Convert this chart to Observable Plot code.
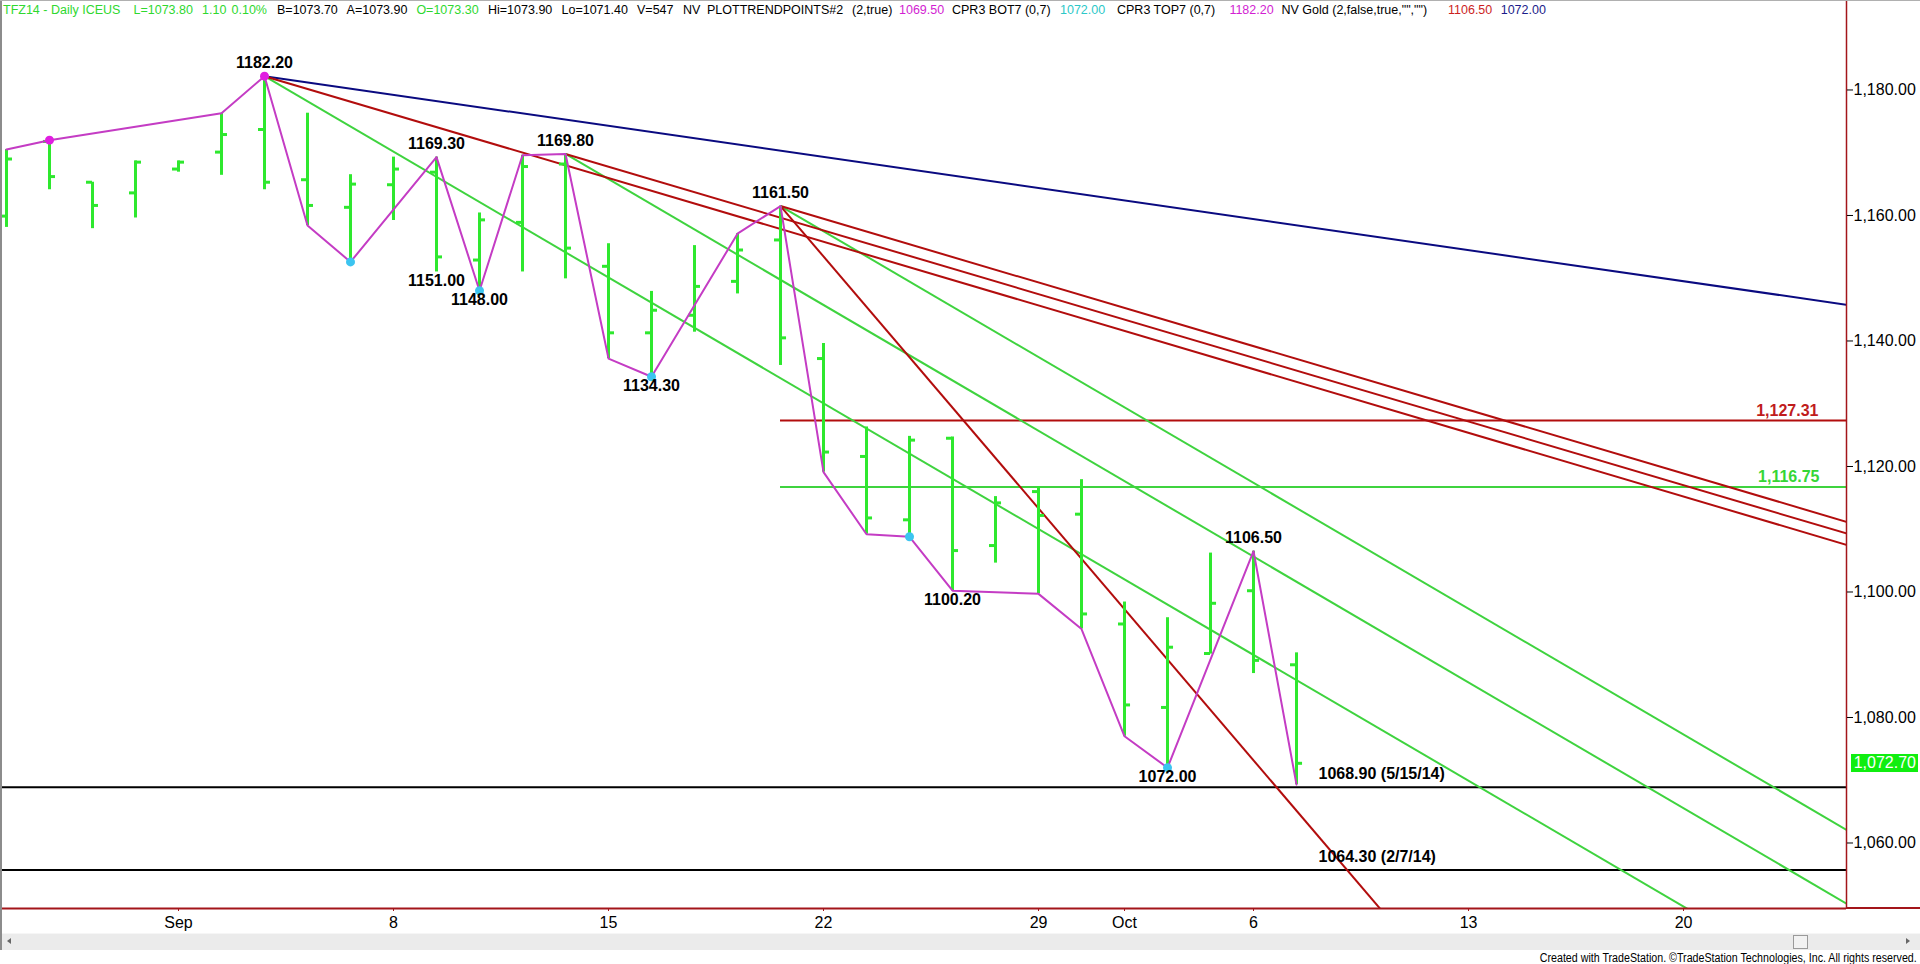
<!DOCTYPE html>
<html><head><meta charset="utf-8">
<script src="https://cdn.jsdelivr.net/npm/d3@7"></script>
<script src="https://cdn.jsdelivr.net/npm/@observablehq/plot@0.6"></script>
<style>
body{margin:0;background:#fff;overflow:hidden;font-family:Arial,"Liberation Sans",sans-serif}
#wrap{position:relative;width:1920px;height:964px;overflow:hidden;background:#fff}
#chart{position:absolute;left:0;top:0}
.hdr{position:absolute;top:3px;font-size:12.5px;line-height:15px;white-space:pre}
.abs{position:absolute}
</style></head><body>
<div id="wrap"><div id="chart"></div></div>
<script>
// ---- data ----
const dates = ["Aug 26","Aug 27","Aug 28","Aug 29","Sep 1","Sep 2","Sep 3","Sep 4","Sep 5","Sep 8","Sep 9","Sep 10","Sep 11","Sep 12","Sep 15","Sep 16","Sep 17","Sep 18","Sep 19","Sep 22","Sep 23","Sep 24","Sep 25","Sep 26","Sep 29","Sep 30","Oct 1","Oct 2","Oct 3","Oct 6","Oct 7"];
const opens  = [1159.9,1171.8,1165.3,1163.6,1167.4,1170.1,1173.7,1165.7,1161.3,1164.9,1166.9,1152.9,1158.9,1168.2,1151.9,1141.3,1144.1,1149.5,1156.1,1137.2,1121.6,1111.5,1124.5,1107.4,1116.0,1112.4,1094.9,1081.6,1090.2,1100.2,1088.4];
const highs  = [1170.5,1172.0,1165.3,1168.7,1168.7,1176.3,1182.2,1176.3,1166.5,1169.3,1169.3,1160.4,1169.6,1169.8,1155.5,1147.9,1155.2,1157.1,1161.5,1139.6,1126.3,1124.8,1124.7,1115.2,1116.8,1117.9,1098.4,1095.9,1106.2,1106.5,1090.3];
const lows   = [1158.1,1164.1,1157.9,1159.6,1166.9,1166.4,1164.1,1158.4,1152.6,1159.2,1151.0,1148.0,1151.0,1149.9,1137.2,1134.3,1141.4,1147.5,1136.1,1119.1,1109.2,1108.8,1100.2,1104.6,1099.7,1094.1,1077.0,1072.0,1090.1,1087.0,1069.3];
const closes = [1169.0,1166.2,1161.6,1168.5,1168.5,1172.9,1165.3,1161.6,1165.0,1167.4,1153.4,1159.3,1167.8,1154.8,1141.3,1144.9,1148.7,1154.5,1140.5,1122.3,1111.8,1124.2,1106.6,1114.2,1112.2,1096.5,1082.0,1091.2,1098.2,1089.1,1072.7];

const swingIdx = [0,1,5,6,7,8,10,11,12,13,14,15,17,18,19,20,21,22,24,25,26,27,29,30];
const swingVal = [1170.5,1172.0,1176.3,1182.2,1158.4,1152.6,1169.3,1148.0,1169.6,1169.8,1137.2,1134.3,1157.1,1161.5,1119.1,1109.2,1108.8,1100.2,1099.7,1094.1,1077.0,1072.0,1106.5,1069.3];
const highDotIdx = [1,6];
const lowDotIdx = [8,11,15,21,27];

const labelIdx  = [6,10,10,11,13,15,18,22,27,29];
const labelVal  = [1182.2,1169.3,1151.0,1148.0,1169.8,1134.3,1161.5,1100.2,1072.0,1106.5];
const labelSide = ["above","above","below","below","above","below","above","below","below","above"];

const fanIdx = [6,13,18];
const fanVal = [1182.2,1169.8,1161.5];
const redFanSlope = -2.03;
const greenFanSlope = -4.01;
const steepIdx = 18, steepVal = 1161.5, steepSlope = -8.03;
const blueIdx = 6, blueVal = 1182.2, blueSlope = -0.99;

const levelVals = [1127.31, 1116.75];
const levelText = ["1,127.31", "1,116.75"];
const levelFrom = 18;

const supportVals = [1068.9, 1055.7];
const supportText = ["1068.90 (5/15/14)", "1064.30 (2/7/14)"];

const yTicks = [1060,1080,1100,1120,1140,1160,1180];
const tickIdx = [4,9,14,19,24,26,29,34,39];
const tickLabels = ["Sep","8","15","22","29","Oct","6","13","20"];

const headerText = ["TFZ14 - Daily ICEUS","L=1073.80","1.10","0.10%","B=1073.70","A=1073.90","O=1073.30","Hi=1073.90","Lo=1071.40","V=547","NV","PLOTTRENDPOINTS#2","(2,true)","1069.50","CPR3 BOT7 (0,7)","1072.00","CPR3 TOP7 (0,7)","1182.20","NV Gold (2,false,true,\"\",\"\")","1106.50","1072.00"];
const priceTag = "1,072.70";
const credit = "Created with TradeStation. \u00A9TradeStation Technologies, Inc. All rights reserved.";

// ---- layout / style ----
const headerX = [3,133.5,202,231.5,277,346.6,416.4,488,561.5,637,683,707,852,899,952,1060,1117,1229.4,1281.5,1448,1500.7];
const GREEN_T="#2fd82f", MAG_T="#d21ed2", CYAN_T="#2cc8c8", RED_T="#cc1f1f", NAVY_T="#1c1c8a";
const headerColor = [GREEN_T,GREEN_T,GREEN_T,GREEN_T,"#000","#000",GREEN_T,"#000","#000","#000","#000","#000","#000",MAG_T,"#000",CYAN_T,"#000",MAG_T,"#000",RED_T,NAVY_T];

const BAR="#2ee82e", LINEG="#3fd33f", LINER="#b20d0d", NAVY="#0a0a80", MAG="#c43cc4", AXR="#a3151a";
const xDomain = [-0.093, 42.79];
const yDomain = [1049.56, 1194.26];
const xMax = xDomain[1];

// ---- derived tables ----
const bars = dates.map((d,i)=>({k:i, date:d, open:opens[i], high:highs[i], low:lows[i], close:closes[i]}));
const swing = swingIdx.map((k,i)=>({k, v:swingVal[i]}));
const hiDots = highDotIdx.map(k=>({k, v:highs[k]}));
const loDots = lowDotIdx.map(k=>({k, v:lows[k]}));
const labels = labelIdx.map((k,i)=>({k, v:labelVal[i], side:labelSide[i]}));
const seg = (k0,v0,s)=>({x1:k0, y1:v0, x2:xMax, y2:v0 + s*(xMax-k0)});
const redFan = fanIdx.map((k,i)=>seg(k,fanVal[i],redFanSlope));
const greenFan = fanIdx.map((k,i)=>seg(k,fanVal[i],greenFanSlope));
const steep = [seg(steepIdx,steepVal,steepSlope)];
const blue = [seg(blueIdx,blueVal,blueSlope)];
const levels = levelVals.map((v,i)=>({v, text:levelText[i]}));
const supports = supportVals.map((v,i)=>({v, text:supportText[i]}));
const labelOf = new Map(tickIdx.map((k,i)=>[k,tickLabels[i]]));

const font = "Arial, 'Liberation Sans', sans-serif";
const tick = 0.14;

const plot = Plot.plot({
  width:1920, height:964,
  marginTop:0, marginRight:74, marginBottom:56, marginLeft:2,
  x:{domain:xDomain},
  y:{domain:yDomain},
  style:{fontFamily:font, background:"transparent", color:"#000", overflow:"visible"},
  marks:[
    Plot.ruleY(supports, {y:"v", stroke:"#000", strokeWidth:2}),
    Plot.ruleY(levels.slice(0,1), {y:"v", x1:()=>levelFrom, x2:()=>xMax, stroke:LINER, strokeWidth:2}),
    Plot.ruleY(levels.slice(1), {y:"v", x1:()=>levelFrom, x2:()=>xMax, stroke:LINEG, strokeWidth:2}),
    Plot.link(blue, {x1:"x1", y1:"y1", x2:"x2", y2:"y2", stroke:NAVY, strokeWidth:2, clip:true}),
    Plot.link(greenFan, {x1:"x1", y1:"y1", x2:"x2", y2:"y2", stroke:LINEG, strokeWidth:2, clip:true}),
    Plot.link(redFan, {x1:"x1", y1:"y1", x2:"x2", y2:"y2", stroke:LINER, strokeWidth:2, clip:true}),
    Plot.link(steep, {x1:"x1", y1:"y1", x2:"x2", y2:"y2", stroke:LINER, strokeWidth:2, clip:true}),
    Plot.ruleX(bars, {x:"k", y1:"low", y2:"high", stroke:BAR, strokeWidth:3}),
    Plot.ruleY(bars, {y:"open", x1:d=>d.k-tick, x2:"k", stroke:BAR, strokeWidth:3}),
    Plot.ruleY(bars, {y:"close", x1:"k", x2:d=>d.k+tick, stroke:BAR, strokeWidth:3}),
    Plot.line(swing, {x:"k", y:"v", stroke:MAG, strokeWidth:2}),
    Plot.dot(hiDots, {x:"k", y:"v", r:4.5, fill:"#e01ee0"}),
    Plot.dot(loDots, {x:"k", y:"v", r:4.5, fill:"#3cc4f0"}),
    Plot.text(labels.filter(d=>d.side==="above"), {x:"k", y:"v", text:d=>d.v.toFixed(2), dy:-13, fontSize:16, fontWeight:"bold", fill:"#000"}),
    Plot.text(labels.filter(d=>d.side==="below"), {x:"k", y:"v", text:d=>d.v.toFixed(2), dy:9, fontSize:16, fontWeight:"bold", fill:"#000"}),
    Plot.text(levels.slice(0,1), {x:()=>xMax, y:"v", text:"text", dx:-28, dy:-10, textAnchor:"end", fontSize:16, fontWeight:"bold", fill:"#c01c1c"}),
    Plot.text(levels.slice(1), {x:()=>xMax, y:"v", text:"text", dx:-27, dy:-10, textAnchor:"end", fontSize:16, fontWeight:"bold", fill:"#35d635"}),
    Plot.text(supports, {x:()=>bars.length-1, y:"v", text:"text", dx:22, dy:-13, textAnchor:"start", fontSize:16, fontWeight:"bold", fill:"#000"}),
    Plot.ruleX([xMax], {stroke:AXR, strokeWidth:1.5}),
    Plot.ruleY([yDomain[0]], {stroke:AXR, strokeWidth:2}),
    Plot.axisY(yTicks, {anchor:"right", tickSize:6, tickPadding:1, tickFormat:d3.format(",.2f"), fontSize:16, label:null, stroke:"#000"}),
    Plot.axisX(tickIdx, {anchor:"bottom", tickSize:3, tickPadding:5, tickFormat:d=>labelOf.get(d), fontSize:16, label:null, stroke:AXR})
  ]
});
document.getElementById("chart").appendChild(plot);

const wrap = document.getElementById("wrap");
function addDiv(css, text){ const d=document.createElement("div"); d.className="abs"; d.style.cssText=css; if(text!=null) d.textContent=text; wrap.appendChild(d); return d; }

headerText.forEach((t,i)=>{ const s=document.createElement("div"); s.className="hdr"; s.style.left=headerX[i]+"px"; s.style.color=headerColor[i]; s.textContent=t; wrap.appendChild(s); });

addDiv("left:0;top:0;width:2px;height:950px;background:#8c8c8c");
addDiv("left:0;top:0;width:1920px;height:1px;background:#b0b0b0");
addDiv("left:1846px;top:907px;width:74px;height:2px;background:"+AXR);
addDiv("left:2px;top:933px;width:1918px;height:16px;background:#ebebeb;border-top:1px solid #f6f6f6");
addDiv("left:7px;top:938px;width:0;height:0;border-top:3px solid transparent;border-bottom:3px solid transparent;border-right:4px solid #666");
addDiv("left:1906px;top:938px;width:0;height:0;border-top:3px solid transparent;border-bottom:3px solid transparent;border-left:4px solid #666");
addDiv("left:1793px;top:935px;width:13px;height:12px;background:#f2f2f2;border:1px solid #9a9a9a");
const cr = addDiv("right:3px;top:952px;font-size:12px;line-height:13px;white-space:pre;color:#000;transform-origin:100% 50%", credit);
const w = cr.getBoundingClientRect().width; if (w>0) cr.style.transform = "scaleX("+(377/w)+")";
const yc = plot.scale("y").apply(closes[closes.length-1]);
addDiv("left:1851px;top:"+(yc-9)+"px;width:67px;height:18px;background:#10ee10;color:#fff;font-size:16px;line-height:18px;text-align:right;padding-right:2px;box-sizing:border-box", priceTag);
</script>
</body></html>
